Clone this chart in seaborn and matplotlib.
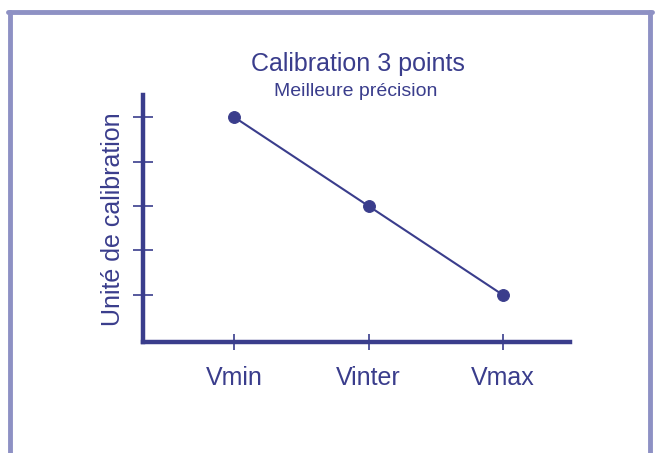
import matplotlib
matplotlib.use("Agg")
import matplotlib.pyplot as plt
from matplotlib.lines import Line2D
import seaborn as sns
import pandas as pd

categories = ["Vmin", "Vinter", "Vmax"]
values = [5, 3, 1]
y_ticks = [1, 2, 3, 4, 5]

navy = "#3a3d8c"
frame_col = "#8e91c4"

sns.set_style("white")
plt.rcParams["font.family"] = ["Liberation Sans", "DejaVu Sans"]

df = pd.DataFrame({"pos": range(len(categories)), "val": values})

W, H = 656, 453
fig = plt.figure(figsize=(W / 100, H / 100), dpi=100)
ax = fig.add_axes([143 / W, 1 - 342 / H, (570 - 143) / W, (342 - 95) / H])

sns.lineplot(data=df, x="pos", y="val", ax=ax, color=navy, linewidth=1.5,
             marker="o", markersize=8.5, markeredgecolor=navy, markerfacecolor=navy)

ax.set_xlim(-0.68, 2.5)
ax.set_ylim(-0.06, 5.5)
ax.set_xticks(range(len(categories)))
ax.set_xticklabels(categories)
ax.set_yticks(y_ticks)
ax.set_yticklabels([])
ax.set_xlabel("")
ax.set_ylabel("")

for side in ["top", "right"]:
    ax.spines[side].set_visible(False)
for side in ["left", "bottom"]:
    ax.spines[side].set_color(navy)
    ax.spines[side].set_linewidth(3.2)

ax.tick_params(axis="y", direction="inout", length=14, width=1.2, color=navy, left=True)
ax.tick_params(axis="x", direction="inout", length=12, width=1.2, color=navy,
               bottom=True, labelsize=18, labelcolor=navy, pad=11)

fig.text(113 / W, 1 - 219 / H, "Unité de calibration", rotation=90,
         ha="center", va="center", fontsize=18, color=navy)

fig.text(358 / W, 1 - 70.5 / H, "Calibration 3 points", ha="center", va="baseline",
         fontsize=18, color=navy)
fig.text(356 / W, 1 - 96 / H, "Meilleure précision", ha="center", va="baseline",
         fontsize=14, color=navy)

# outer frame, open at the bottom
frame_kw = dict(color=frame_col, linewidth=3.5, transform=fig.transFigure)
fig.add_artist(Line2D([9.5 / W, 9.5 / W], [0, 1 - 11.5 / H], **frame_kw))
fig.add_artist(Line2D([650 / W, 650 / W], [0, 1 - 11.5 / H], **frame_kw))
fig.add_artist(Line2D([8 / W, 651.5 / W], [1 - 11.5 / H, 1 - 11.5 / H], **frame_kw))

fig.savefig("out.png", dpi=100)
